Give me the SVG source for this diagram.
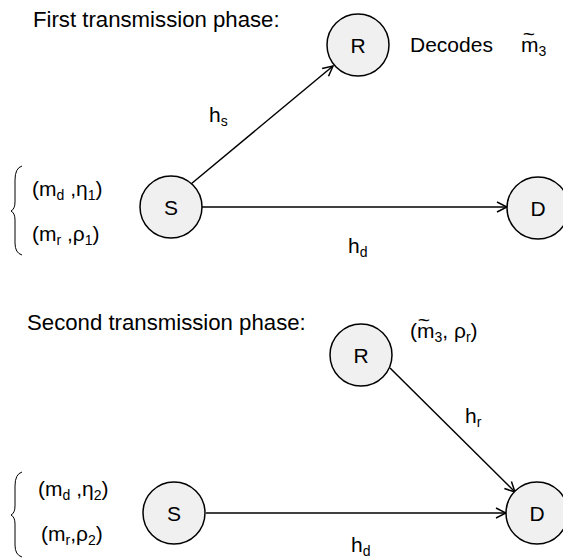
<svg xmlns="http://www.w3.org/2000/svg" width="563" height="558" viewBox="0 0 563 558">
<defs>
<style>
text{font-family:"Liberation Sans",Arial,sans-serif;font-size:21px;fill:#000}
.title{font-size:22.2px}
.sub{font-size:14px}
.node circle{fill:#f0f0f0;stroke:#000;stroke-width:1.5}
.node text{text-anchor:middle}
.edge{stroke:#000;stroke-width:1.5;fill:none;marker-end:url(#arr)}
.brace{stroke:#000;stroke-width:1;fill:none}
</style>
<marker id="arr" viewBox="0 0 12 12" refX="11" refY="6" markerWidth="12" markerHeight="12" markerUnits="userSpaceOnUse" orient="auto">
<path d="M1,1 L11,6 L1,11" fill="none" stroke="#000" stroke-width="1.5"/>
</marker>
</defs>
<rect width="563" height="558" fill="#fff"/>

<g id="phase1">
<text class="title" x="33" y="27">First transmission phase:</text>
<text x="410" y="52">Decodes</text>
<text x="521" y="52">m<tspan class="sub" dy="4">3</tspan></text>
<text x="529" y="41" text-anchor="middle">~</text>
<path class="brace" d="M22,166 Q15,168 15,180 L15,202 Q15,209 11,211 Q15,213 15,220 L15,243 Q15,253 22,255"/>
<text x="32" y="196">(m<tspan class="sub" dy="4">d</tspan><tspan dy="-4"> ,η</tspan><tspan class="sub" dy="4">1</tspan><tspan dy="-4">)</tspan></text>
<text x="32" y="241">(m<tspan class="sub" dy="4">r</tspan><tspan dy="-4"> ,ρ</tspan><tspan class="sub" dy="4">1</tspan><tspan dy="-4">)</tspan></text>
</g>

<g id="edges1">
<line class="edge" x1="191" y1="184" x2="333" y2="66"/>
<line class="edge" x1="202" y1="207" x2="507" y2="207"/>
<text x="209" y="122">h<tspan class="sub" dy="4">s</tspan></text>
<text x="348" y="253">h<tspan class="sub" dy="4">d</tspan></text>
</g>

<g id="R1" class="node"><circle cx="358" cy="45" r="31"/><text x="358" y="53">R</text></g>
<g id="S1" class="node"><circle cx="171" cy="207" r="31"/><text x="171" y="215">S</text></g>
<g id="D1" class="node"><circle cx="538" cy="208" r="31"/><text x="538" y="216">D</text></g>

<g id="phase2">
<text class="title" x="27" y="330">Second transmission phase:</text>
<text x="410" y="338">(m<tspan class="sub" dy="4">3</tspan><tspan dy="-4">, ρ</tspan><tspan class="sub" dy="4">r</tspan><tspan dy="-4">)</tspan></text>
<text x="424" y="327" text-anchor="middle">~</text>
<path class="brace" d="M22,472 Q15,474 15,486 L15,506 Q15,513 11,515 Q15,517 15,524 L15,545 Q15,555 22,557"/>
<text x="38" y="496">(m<tspan class="sub" dy="4">d</tspan><tspan dy="-4"> ,η</tspan><tspan class="sub" dy="4">2</tspan><tspan dy="-4">)</tspan></text>
<text x="41" y="541">(m<tspan class="sub" dy="4">r</tspan><tspan dy="-4">,ρ</tspan><tspan class="sub" dy="4">2</tspan><tspan dy="-4">)</tspan></text>
</g>

<g id="edges2">
<line class="edge" x1="390" y1="368" x2="515" y2="492"/>
<line class="edge" x1="206" y1="513" x2="506" y2="513"/>
<text x="465" y="423">h<tspan class="sub" dy="4">r</tspan></text>
<text x="351" y="552">h<tspan class="sub" dy="4">d</tspan></text>
</g>

<g id="R2" class="node"><circle cx="361" cy="355" r="31"/><text x="361" y="363">R</text></g>
<g id="S2" class="node"><circle cx="174" cy="513" r="31"/><text x="174" y="521">S</text></g>
<g id="D2" class="node"><circle cx="537" cy="513" r="31"/><text x="537" y="521">D</text></g>
</svg>
